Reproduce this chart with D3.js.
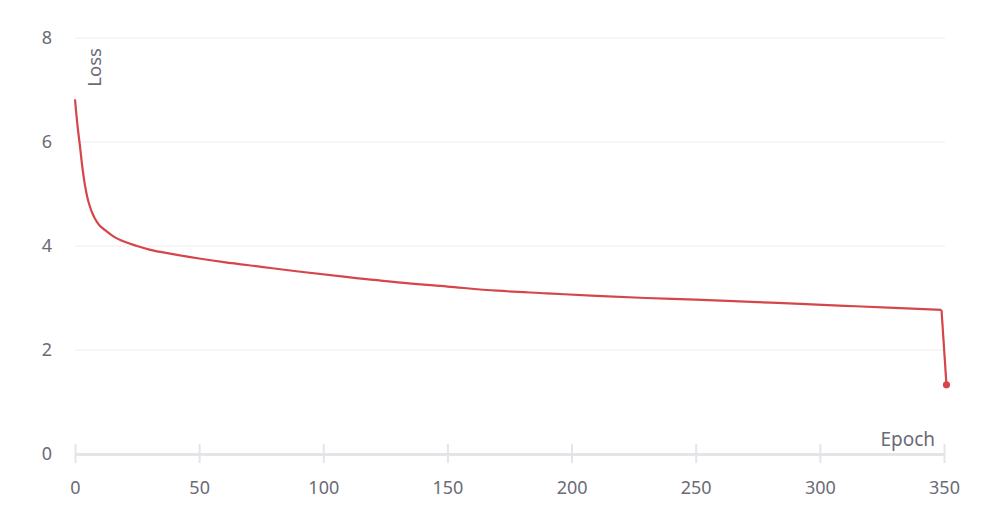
<!DOCTYPE html>
<html>
<head>
<meta charset="utf-8">
<script src="https://cdn.jsdelivr.net/npm/d3@7"></script>
<style>
  body { margin: 0; background: #fff; }
  text { font-family: "Noto Sans", sans-serif; }
</style>
</head>
<body>
<div id="chart"></div>
<script>
// loss per epoch
const epochs = [0, 1, 2, 3, 4, 5, 6, 7, 8, 10, 12, 15, 20, 25, 30, 40, 50, 60, 75, 90,
                110, 130, 150, 170, 190, 210, 230, 250, 270, 290, 310, 330, 349];
const losses = [6.82, 6.32, 5.92, 5.5, 5.17, 4.93, 4.76, 4.63, 4.53, 4.39, 4.31, 4.2, 4.08, 4.0, 3.93, 3.84, 3.76, 3.69, 3.6, 3.51,
                3.4, 3.3, 3.22, 3.14, 3.09, 3.04, 3.0, 2.97, 2.93, 2.89, 2.85, 2.81, 2.77];
// final drop to the last point
const lastEpochs = [349, 351];
const lastLosses = [2.77, 1.33];

const xTicks = [0, 50, 100, 150, 200, 250, 300, 350];
const yTicks = [0, 2, 4, 6, 8];

const width = 1004, height = 528;
const margin = {top: 38, right: 60, bottom: 74, left: 75};

const x = d3.scaleLinear().domain([0, 350]).range([margin.left, width - margin.right]);
const y = d3.scaleLinear().domain([0, 8]).range([height - margin.bottom, margin.top]);

const svg = d3.select("#chart").append("svg")
    .attr("width", width)
    .attr("height", height);

const textColor = "#6b6b76";

// grid lines
svg.append("g")
    .selectAll("line")
    .data(yTicks.filter(d => d > 0))
    .enter().append("line")
    .attr("x1", x(0))
    .attr("x2", x(350) + 1)
    .attr("y1", d => y(d))
    .attr("y2", d => y(d))
    .attr("stroke", "#ececef")
    .attr("stroke-width", 1);

// y tick labels
svg.append("g")
    .selectAll("text")
    .data(yTicks)
    .enter().append("text")
    .attr("x", 52)
    .attr("y", d => y(d))
    .attr("dy", "0.35em")
    .attr("text-anchor", "end")
    .attr("fill", textColor)
    .style("font-size", "18px")
    .text(d => d);

// x axis
const xAxis = d3.axisBottom(x).tickValues(xTicks).tickSize(0).tickPadding(27);
const gx = svg.append("g")
    .attr("transform", "translate(0," + y(0) + ")")
    .call(xAxis);
gx.select(".domain").attr("stroke", "#e4e4e9").attr("stroke-width", 3);
gx.selectAll(".tick text")
    .attr("fill", textColor)
    .style("font-size", "18px")
    .style("font-family", "Noto Sans, sans-serif");
gx.selectAll(".tick").append("line")
    .attr("y1", -10)
    .attr("y2", 9)
    .attr("stroke", "#e4e4e9")
    .attr("stroke-width", 2);

// axis titles
svg.append("text")
    .attr("transform", "translate(101,48) rotate(-90)")
    .attr("text-anchor", "end")
    .attr("fill", textColor)
    .style("font-size", "18.5px")
    .text("Loss");

svg.append("text")
    .attr("x", 935)
    .attr("y", 446)
    .attr("text-anchor", "end")
    .attr("fill", textColor)
    .style("font-size", "19px")
    .text("Epoch");

// the loss line
const red = "#d6454a";
const data = epochs.map((e, i) => ({epoch: e, loss: losses[i]}));
const tail = lastEpochs.map((e, i) => ({epoch: e, loss: lastLosses[i]}));

const line = d3.line()
    .x(d => x(d.epoch))
    .y(d => y(d.loss))
    .curve(d3.curveMonotoneX);

svg.append("path")
    .datum(data)
    .attr("fill", "none")
    .attr("stroke", red)
    .attr("stroke-width", 2.2)
    .attr("d", line);

svg.append("path")
    .datum(tail)
    .attr("fill", "none")
    .attr("stroke", red)
    .attr("stroke-width", 2.2)
    .attr("d", line.curve(d3.curveLinear));

svg.append("circle")
    .attr("cx", x(tail[1].epoch))
    .attr("cy", y(tail[1].loss))
    .attr("r", 3.6)
    .attr("fill", red);
</script>
</body>
</html>
